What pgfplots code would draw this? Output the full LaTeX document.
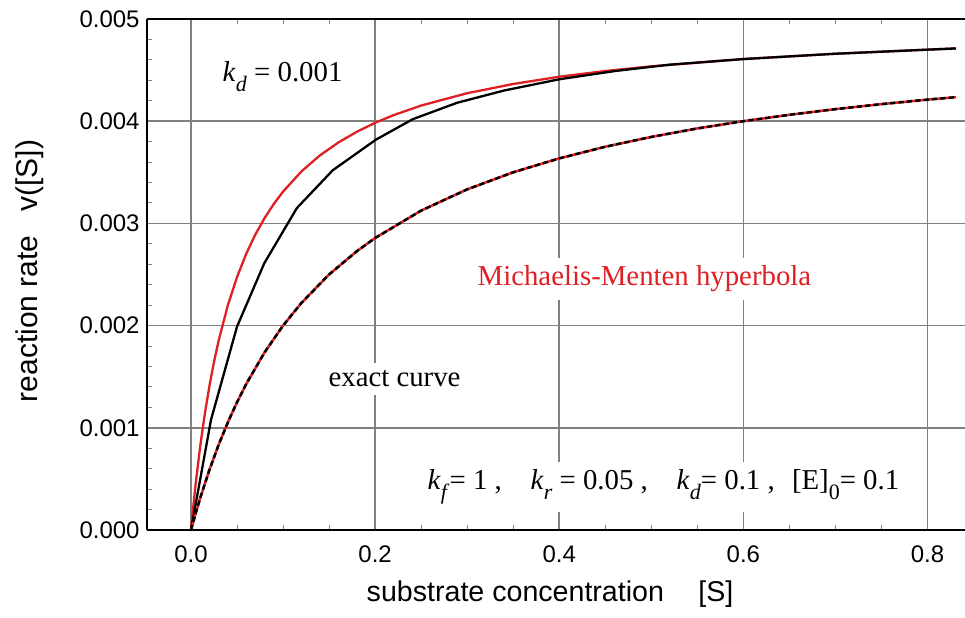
\documentclass[border=0pt]{standalone}
\usepackage{fontspec}
\setmainfont{Liberation Sans}
\newfontfamily\serif{Liberation Serif}
\usepackage{pgfplots}
\pgfplotsset{compat=1.18}
\usetikzlibrary{calc}
\definecolor{mmred}{RGB}{222,32,36}
\definecolor{gridgray}{RGB}{128,128,128}
\newcommand{\lo}[1]{\raisebox{-0.34em}{\fontsize{11}{12}\selectfont #1}}
\begin{document}
\begin{tikzpicture}
\begin{axis}[
  scale only axis, width=409pt, height=255.5pt,
  xmin=-0.0478, xmax=0.8408, ymin=0, ymax=0.005,
  axis x line=box, axis y line=left,
  axis line style={-, line width=1.2pt, black},
  xtick={0,0.2,0.4,0.6,0.8},
  ytick={0,0.001,0.002,0.003,0.004,0.005},
  minor x tick num=3, minor y tick num=4,
  tick align=inside, major tick length=3pt, minor tick length=2.5pt,
  every tick/.style={gridgray, line width=0.5pt},
  grid=major, major grid style={gridgray, line width=0.8pt},
  scaled y ticks=false, scaled x ticks=false,
  /pgf/number format/assume math mode=true,
  tick label style={font=\fontsize{12}{14}\selectfont},
  xticklabel style={/pgf/number format/fixed, /pgf/number format/fixed zerofill, /pgf/number format/precision=1, inner sep=0pt, anchor=north, yshift=-7.5pt},
  yticklabel style={/pgf/number format/fixed, /pgf/number format/fixed zerofill, /pgf/number format/precision=3, inner sep=0pt, anchor=east, xshift=-3.5pt},
  xlabel={substrate concentration\hspace{1.2em}[S]},
  ylabel={reaction rate\hspace{0.8em}v([S])},
  every axis x label/.style={at={(axis description cs:0.4927,0)}, anchor=base, yshift=-36pt, inner sep=0pt, font=\fontsize{14.3}{16}\selectfont},
  every axis y label/.style={at={(axis description cs:-0.143,0.507)}, anchor=center, rotate=90, inner sep=0pt, font=\fontsize{15}{17}\selectfont},
]
% Michaelis-Menten hyperbola, k_d = 0.001
\addplot[mmred, line width=1.15pt] coordinates {
(0,0) (0.002,0.0001887) (0.005,0.000446) (0.01,0.000820) (0.015,0.001136)
(0.02,0.001408) (0.025,0.001645) (0.03,0.001852) (0.04,0.002198) (0.05,0.002475)
(0.06,0.002703) (0.07,0.002893) (0.08,0.003053) (0.09,0.003191) (0.10,0.003311)
(0.12,0.003509) (0.14,0.003665) (0.16,0.003791) (0.18,0.003896) (0.20,0.003984)
(0.22,0.004059) (0.25,0.004153) (0.30,0.004274) (0.35,0.004364) (0.40,0.004435)
(0.45,0.004491) (0.50,0.004537) (0.60,0.004608) (0.70,0.004660) (0.80,0.004700)
(0.831,0.004712)};
% exact curve, k_d = 0.001
\addplot[black, line width=1.15pt] coordinates {
(0,0) (0.0217,0.001077) (0.050,0.00199) (0.0796,0.00261) (0.115,0.00315)
(0.154,0.00352) (0.201,0.00382) (0.241,0.00402) (0.289,0.00418) (0.34,0.00430)
(0.40,0.00441) (0.46,0.00449) (0.52,0.004553) (0.60,0.004608) (0.70,0.004660)
(0.80,0.004700) (0.831,0.004712)};
% Michaelis-Menten hyperbola, k_d = 0.1
\addplot[mmred, line width=1.25pt] coordinates {
(0,0) (0.005,0.0001613) (0.01,0.0003125) (0.02,0.0005882) (0.03,0.0008333)
(0.04,0.0010526) (0.05,0.00125) (0.06,0.0014286) (0.08,0.001739) (0.10,0.0020)
(0.12,0.002222) (0.15,0.0025) (0.18,0.002727) (0.20,0.002857) (0.25,0.003125)
(0.30,0.003333) (0.35,0.0035) (0.40,0.003636) (0.45,0.00375) (0.50,0.003846)
(0.55,0.003929) (0.60,0.0040) (0.65,0.0040625) (0.70,0.004118) (0.75,0.004167)
(0.80,0.004211) (0.831,0.004235)};
% exact curve, k_d = 0.1
\addplot[black, line width=1.25pt, dash pattern=on 2.6pt off 1.6pt] coordinates {
(0,0) (0.005,0.0001613) (0.01,0.0003125) (0.02,0.0005882) (0.03,0.0008333)
(0.04,0.0010526) (0.05,0.00125) (0.06,0.0014286) (0.08,0.001739) (0.10,0.0020)
(0.12,0.002222) (0.15,0.0025) (0.18,0.002727) (0.20,0.002857) (0.25,0.003125)
(0.30,0.003333) (0.35,0.0035) (0.40,0.003636) (0.45,0.00375) (0.50,0.003846)
(0.55,0.003929) (0.60,0.0040) (0.65,0.0040625) (0.70,0.004118) (0.75,0.004167)
(0.80,0.004211) (0.831,0.004235)};
\node[anchor=base west, inner sep=0pt, font=\serif\fontsize{14.4}{16}\selectfont]
  at (axis cs:0.034,0.004388) {\textit{k}\lo{\textit{d}} = 0.001};
\node[anchor=base west, inner sep=4pt, xshift=-4pt, fill=white, text=mmred, font=\serif\fontsize{14.4}{16}\selectfont]
  at (axis cs:0.311,0.00239) {Michaelis-Menten hyperbola};
\node[anchor=base west, inner sep=4pt, xshift=-4pt, fill=white, font=\serif\fontsize{14.4}{16}\selectfont]
  at (axis cs:0.149,0.0014) {exact curve};
\node[anchor=base west, inner sep=4pt, xshift=-4pt, fill=white, font=\serif\fontsize{14.4}{16}\selectfont]
  at (axis cs:0.2567,0.000392) {\textit{k}\lo{\textit{f}}= 1 ,\hspace{1em}\textit{k}\lo{\textit{r}} = 0.05 ,\hspace{1em}\textit{k}\lo{\textit{d}}= 0.1 ,\hspace{0.6em}[E]\lo{0}= 0.1};
\end{axis}
\pgfresetboundingbox
\path ($(current axis.south west)+(-73.5pt,-44pt)$) rectangle ($(current axis.north east)+(0pt,9.5pt)$);
\end{tikzpicture}
\end{document}
